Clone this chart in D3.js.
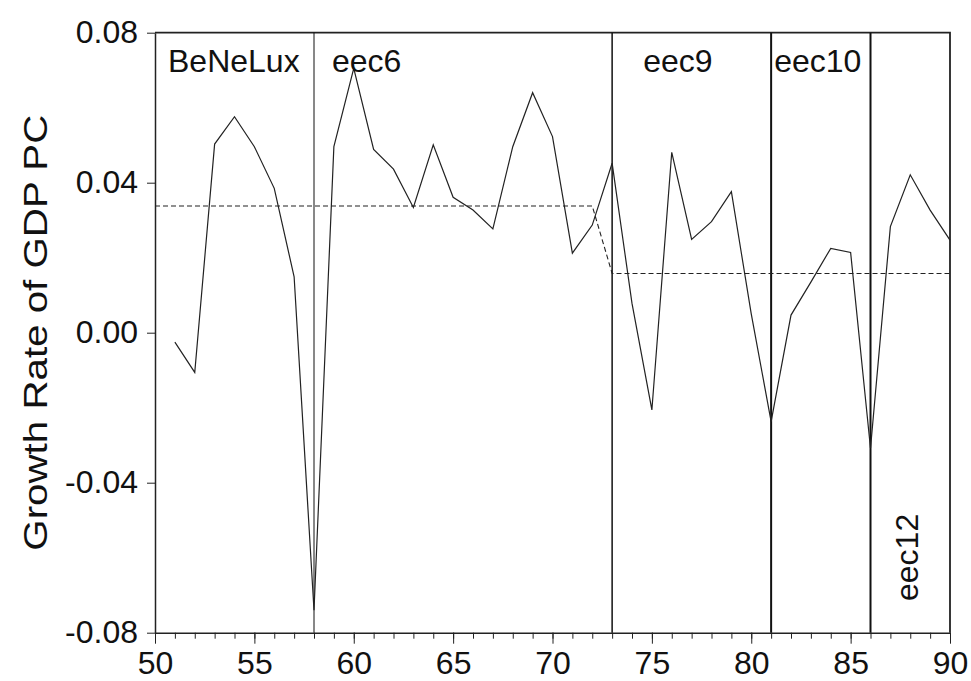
<!DOCTYPE html>
<html>
<head>
<meta charset="utf-8">
<script src="https://cdn.jsdelivr.net/npm/d3@7"></script>
<style>
  body { margin: 0; background: #fff; }
  svg text { font-family: "Liberation Sans", Arial, sans-serif; fill: #111; }
</style>
</head>
<body>
<svg width="971" height="681"></svg>
<script>
// growth rate of GDP per capita, 1951-1990
var years = [51, 52, 53, 54, 55, 56, 57, 58, 59, 60,
             61, 62, 63, 64, 65, 66, 67, 68, 69, 70,
             71, 72, 73, 74, 75, 76, 77, 78, 79, 80,
             81, 82, 83, 84, 85, 86, 87, 88, 89, 90];
var growth = [-0.0025, -0.0106, 0.0503, 0.0576, 0.0496, 0.0385, 0.0149, -0.0740, 0.0496, 0.0705,
              0.0489, 0.0436, 0.0334, 0.0501, 0.0361, 0.0327, 0.0277, 0.0496, 0.0640, 0.0523,
              0.0212, 0.0287, 0.0452, 0.0078, -0.0206, 0.0481, 0.0249, 0.0296, 0.0376, 0.0050,
              -0.0237, 0.0047, 0.0135, 0.0225, 0.0214, -0.0308, 0.0283, 0.0421, 0.0327, 0.0247];

// sub-period means (dashed)
var meanYears = [50, 72, 73, 90];
var meanValues = [0.0338, 0.0338, 0.0158, 0.0158];

// enlargement years
var breakYears = [58, 73, 81, 86];
var eraNames = ["BeNeLux", "eec6", "eec9", "eec10"];
var yTicks = [-0.08, -0.04, 0.00, 0.04, 0.08];

var svg = d3.select("svg");

var x = d3.scaleLinear().domain([50, 90]).range([155, 950]);
var y = d3.scaleLinear().domain([-0.08, 0.08]).range([632.7, 32.7]);

// minor ticks every year
svg.append("g")
    .attr("transform", "translate(0," + y(-0.08) + ")")
    .call(d3.axisBottom(x).tickValues(d3.range(50, 91)).tickSize(6).tickFormat(""))
    .call(function(g) { g.select(".domain").remove(); })
    .selectAll("line").attr("stroke", "#222");

var xAxis = svg.append("g")
    .attr("transform", "translate(0," + y(-0.08) + ")")
    .call(d3.axisBottom(x).tickValues(d3.range(50, 91, 5)).tickSize(11).tickPadding(8).tickSizeOuter(0));
xAxis.select(".domain").attr("stroke", "#222").attr("stroke-width", 1.5);
xAxis.selectAll("line").attr("stroke", "#222");
xAxis.selectAll("text").attr("font-size", "32px");

var fmt = d3.format(".2f");
var yAxis = svg.append("g")
    .attr("transform", "translate(" + x(50) + ",0)")
    .call(d3.axisLeft(y).tickValues(yTicks).tickSize(8).tickPadding(9).tickSizeOuter(0)
      .tickFormat(function(d) { return fmt(d).replace("\u2212", "-"); }));
yAxis.select(".domain").attr("stroke", "#222").attr("stroke-width", 1.5);
yAxis.selectAll("line").attr("stroke", "#222");
yAxis.selectAll("text").attr("font-size", "32px");

// top and right border
svg.append("path")
    .attr("d", "M" + x(50) + "," + y(0.08) + " H" + x(90) + " V" + y(-0.08))
    .attr("fill", "none")
    .attr("stroke", "#222")
    .attr("stroke-width", 1.8);

// break lines
svg.append("g").selectAll("line")
    .data(breakYears)
  .enter().append("line")
    .attr("x1", function(d) { return x(d); })
    .attr("x2", function(d) { return x(d); })
    .attr("y1", y(0.08))
    .attr("y2", y(-0.08))
    .attr("stroke", "#111")
    .attr("stroke-width", function(d, i) { return [1, 1.5, 2, 2][i]; });

var line = d3.line()
    .x(function(d) { return x(d[0]); })
    .y(function(d) { return y(d[1]); });

svg.append("path")
    .datum(d3.zip(meanYears, meanValues))
    .attr("d", line)
    .attr("fill", "none")
    .attr("stroke", "#222")
    .attr("stroke-width", 1.1)
    .attr("stroke-dasharray", "5,3");

svg.append("path")
    .datum(d3.zip(years, growth))
    .attr("d", line)
    .attr("fill", "none")
    .attr("stroke", "#222")
    .attr("stroke-width", 1.2);

// era labels
var labelX = [x(50) + 13, x(58) + 18, x(73) + 31, x(81) + 3];
svg.append("g").selectAll("text")
    .data(eraNames)
  .enter().append("text")
    .attr("x", function(d, i) { return labelX[i]; })
    .attr("y", 72)
    .attr("font-size", "32px")
    .text(function(d) { return d; });

svg.append("text")
    .attr("transform", "translate(" + (x(86) + 47) + ",601) rotate(-90)")
    .attr("font-size", "32px")
    .text("eec12");

svg.append("text")
    .attr("transform", "translate(47," + y(0) + ") rotate(-90)")
    .attr("text-anchor", "middle")
    .attr("font-size", "34px")
    .attr("textLength", 436)
    .attr("lengthAdjust", "spacingAndGlyphs")
    .text("Growth Rate of GDP PC");
</script>
</body>
</html>
